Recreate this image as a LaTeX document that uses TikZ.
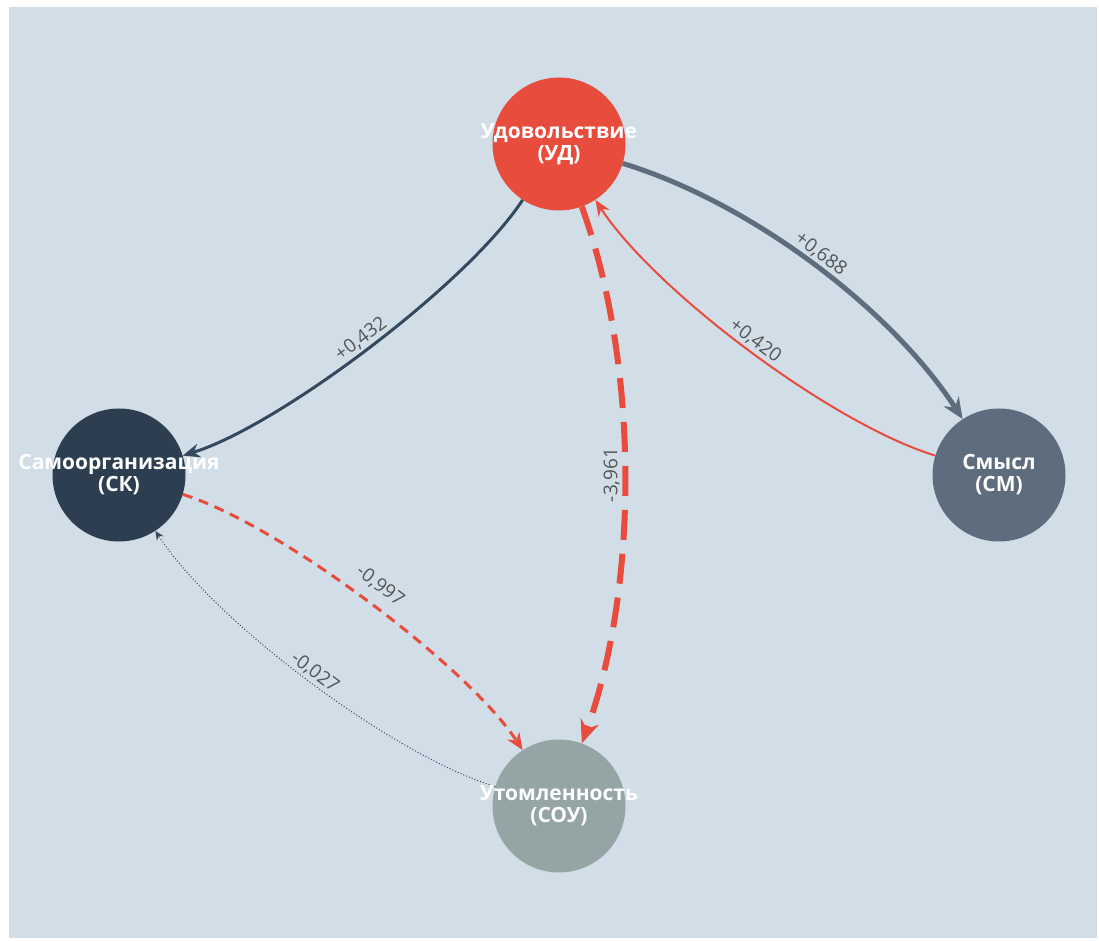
\documentclass[tikz,border=0pt]{standalone}
\usepackage{fontspec}
\setmainfont{Open Sans}
\usetikzlibrary{arrows.meta}
\definecolor{bgblue}{HTML}{D1DEE8}
\definecolor{udred}{HTML}{E74C3C}
\definecolor{skdark}{HTML}{2C3E50}
\definecolor{smgray}{HTML}{5D6D7E}
\definecolor{sougray}{HTML}{95A5A6}
\definecolor{edgedark}{HTML}{34495E}
\definecolor{lblgray}{HTML}{555555}

\begin{document}
\begin{tikzpicture}[x=1pt,y=1pt,
  disc/.style={circle,minimum size=133pt,inner sep=0pt},
  disctext/.style={font=\fontsize{21}{22}\selectfont\bfseries,text=white,align=center},
  lbl/.style={font=\fontsize{19}{19}\selectfont,text=lblgray,anchor=south,inner sep=2pt}]
\useasboundingbox (0,0) rectangle (1099,940);
\fill[white] (0,0) rectangle (1099,940);
\fill[bgblue] (9,2) rectangle (1097,933);

\node[disc,fill=udred] (UD) at (559,796) {};
\node[disc,fill=skdark] (SK) at (119,465) {};
\node[disc,fill=smgray] (SM) at (999,465) {};
\node[disc,fill=sougray] (SOU) at (559,134) {};

\draw[edgedark,line width=3pt,-{Stealth[length=17pt,width=14pt]}] (UD) to[bend left=20,looseness=0.6] node[lbl,rotate=37] {+0,432} (SK);
\draw[smgray,line width=5pt,-{Stealth[length=21pt,width=18pt]}] (UD) to[bend left=20,looseness=0.8] node[lbl,rotate=-37] {+0,688} (SM);
\draw[udred,line width=2pt,-{Stealth[length=16pt,width=13pt]}] (SM) to[bend left=20,looseness=0.65] node[lbl,rotate=-37] {+0,420} (UD);
\draw[udred,line width=6pt,dash pattern=on 30pt off 14pt,-{Stealth[length=23pt,width=19pt]}] (UD) to[bend left=20,looseness=0.8] node[lbl,rotate=90] {-3,961} (SOU);
\draw[udred,line width=3pt,dash pattern=on 10pt off 7pt,-{Stealth[length=17pt,width=14pt]}] (SK) to[bend left=20,looseness=0.6] node[lbl,rotate=-37,outer sep=10pt] {-0,997} (SOU);
\draw[edgedark,line width=1pt,dotted,-{Stealth[length=9pt,width=8pt]}] (SOU) to[bend left=20,looseness=0.65] node[lbl,rotate=-37] {-0,027} (SK);

\node[disctext] at (UD) {Удовольствие\\(УД)};
\node[disctext] at (SK) {Самоорганизация\\(СК)};
\node[disctext] at (SM) {Смысл\\(СМ)};
\node[disctext] at (SOU) {Утомленность\\(СОУ)};
\end{tikzpicture}
\end{document}
